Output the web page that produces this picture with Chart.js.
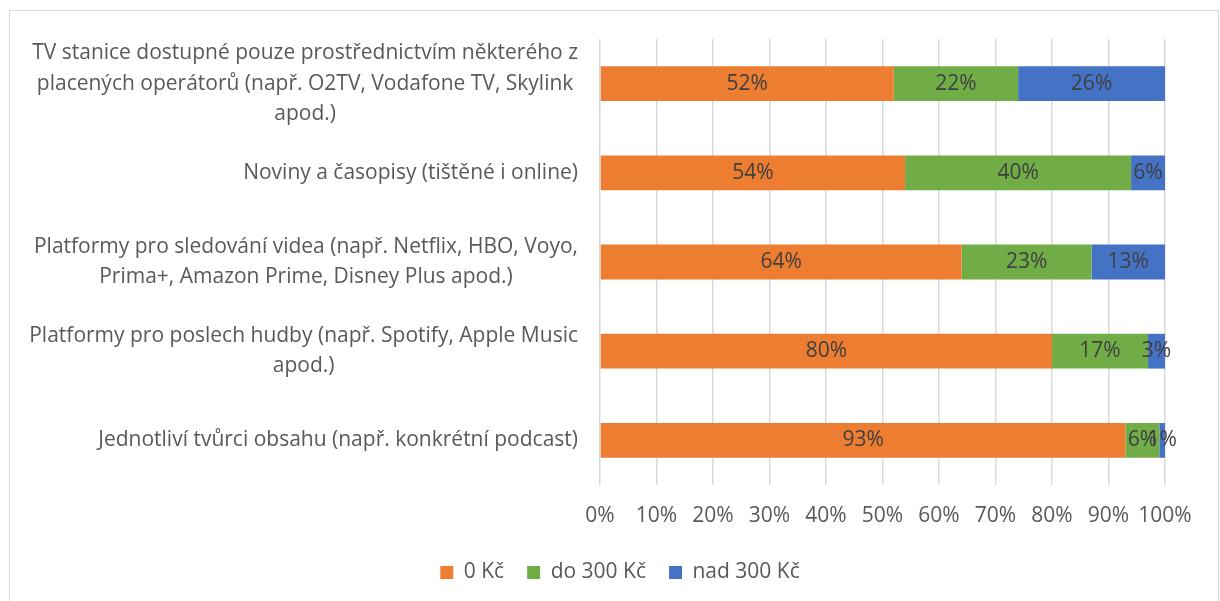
<!DOCTYPE html>
<html>
<head>
<meta charset="utf-8">
<script src="https://cdn.jsdelivr.net/npm/chart.js@4/dist/chart.umd.min.js"></script>
<style>
  html, body { margin: 0; padding: 0; background: #ffffff; }
  #wrap { position: relative; width: 1220px; height: 601px; }
</style>
</head>
<body>
<div id="wrap"><canvas id="c" width="1220" height="601"></canvas></div>
<script>
// ---- data ----
const categories = [
  ["TV stanice dostupné pouze prostřednictvím některého z", "placených operátorů (např. O2TV, Vodafone TV, Skylink", "apod.)"],
  ["Noviny a časopisy (tištěné i online)"],
  ["Platformy pro sledování videa (např. Netflix, HBO, Voyo,", "Prima+, Amazon Prime, Disney Plus apod.)"],
  ["Platformy pro poslech hudby (např. Spotify, Apple Music", "apod.)"],
  ["Jednotliví tvůrci obsahu (např. konkrétní podcast)"]
];
const seriesNames = ["0 Kč", "do 300 Kč", "nad 300 Kč"];
const free0 = [52, 54, 64, 80, 93];
const upTo300 = [22, 40, 23, 17, 6];
const over300 = [26, 6, 13, 3, 1];
const xTicks = [0, 10, 20, 30, 40, 50, 60, 70, 80, 90, 100];

const FONT = "'Open Sans', Lato, 'Liberation Sans', sans-serif";
const FS = 21;
const TEXT = "#595959";

const borderPlugin = {
  id: 'outerBorder',
  beforeDraw(chart) {
    const ctx = chart.ctx;
    ctx.save();
    ctx.fillStyle = '#ffffff';
    ctx.fillRect(0, 0, chart.width, chart.height);
    ctx.strokeStyle = '#d9d9d9';
    ctx.lineWidth = 1;
    ctx.strokeRect(9.5, 10.5, 1209, 620);
    ctx.restore();
  }
};

const catLabelPlugin = {
  id: 'catLabels',
  afterDraw(chart) {
    const ctx = chart.ctx;
    const ys = chart.scales.y;
    const right = chart.chartArea.left - 22;
    const lh = 30.5;
    ctx.save();
    ctx.font = FS + "px " + FONT;
    ctx.fillStyle = TEXT;
    ctx.textAlign = 'center';
    ctx.textBaseline = 'middle';
    categories.forEach((lines, i) => {
      const y = ys.getPixelForValue(i);
      const w = Math.max(...lines.map(l => ctx.measureText(l).width));
      const cx = right - w / 2;
      lines.forEach((l, j) => {
        ctx.fillText(l, cx, y + (j - (lines.length - 1) / 2) * lh);
      });
    });
    ctx.restore();
  }
};

const valueLabelPlugin = {
  id: 'valueLabels',
  afterDatasetsDraw(chart) {
    const ctx = chart.ctx;
    ctx.save();
    ctx.font = FS + "px " + FONT;
    ctx.fillStyle = '#404040';
    ctx.textAlign = 'center';
    ctx.textBaseline = 'middle';
    chart.data.datasets.forEach((ds, di) => {
      const meta = chart.getDatasetMeta(di);
      meta.data.forEach((bar, i) => {
        const cx = (bar.x + bar.base) / 2;
        ctx.fillText(ds.data[i] + '%', cx, bar.y);
      });
    });
    ctx.restore();
  }
};

new Chart(document.getElementById('c'), {
  type: 'bar',
  data: {
    labels: categories.map(l => l.join(' ')),
    datasets: [
      { label: seriesNames[0], data: free0, backgroundColor: '#ED7D31' },
      { label: seriesNames[1], data: upTo300, backgroundColor: '#70AD47' },
      { label: seriesNames[2], data: over300, backgroundColor: '#4472C4' }
    ]
  },
  options: {
    indexAxis: 'y',
    responsive: false,
    animation: false,
    events: [],
    datasets: { bar: { barPercentage: 0.39, categoryPercentage: 1.0 } },
    layout: { padding: { left: 75, right: 55, top: 39, bottom: 8 } },
    scales: {
      x: {
        stacked: true,
        min: 0, max: 100,
        afterBuildTicks(scale) { scale.ticks = xTicks.map(v => ({ value: v })); },
        afterFit(scale) { scale.height = 54; },
        ticks: {
          callback: v => v + '%',
          color: TEXT,
          font: { family: FONT, size: FS },
          padding: 18,
          maxRotation: 0,
          autoSkip: false
        },
        grid: { color: '#d9d9d9', lineWidth: 1.5, drawTicks: false },
        border: { display: false }
      },
      y: {
        stacked: true,
        afterFit(scale) { scale.width = 525; },
        ticks: { display: false },
        grid: { display: false },
        border: { display: false }
      }
    },
    plugins: {
      legend: {
        position: 'bottom',
        labels: {
          color: TEXT,
          font: { family: FONT, size: FS },
          boxWidth: 13, boxHeight: 13,
          padding: 23
        }
      },
      tooltip: { enabled: false }
    }
  },
  plugins: [borderPlugin, catLabelPlugin, valueLabelPlugin]
});
</script>
</body>
</html>
